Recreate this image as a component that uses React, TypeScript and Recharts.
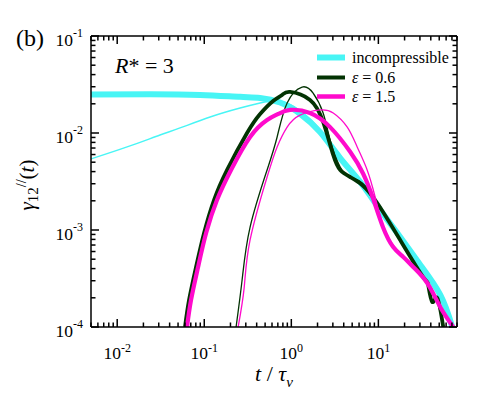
import React from 'react';
import { Legend, Line, LineChart, XAxis, YAxis } from 'recharts';

// time axis t / tau_nu and gamma_12 values
const incompT = [0.005, 0.0238, 0.0895, 0.258, 0.438, 0.743, 1.26, 2.14, 3.64, 6.18, 10.5, 17.8, 30.3, 51.4, 70.6];
const incompThick = [0.025, 0.0251, 0.0247, 0.0236, 0.023, 0.0206, 0.0158, 0.0102, 0.00552, 0.00313, 0.00161, 0.000847, 0.000436, 0.000214, 0.0001];

const incompThinT = [0.005, 0.013, 0.031, 0.0527, 0.1167, 0.258, 0.438, 0.743, 1.26, 2.14, 3.64, 6.18, 10.5, 17.8, 30.3, 51.4, 70.6];
const incompThin = [0.0054, 0.00718, 0.00953, 0.01127, 0.01463, 0.0181, 0.0204, 0.0214, 0.017, 0.0108, 0.0059, 0.0032, 0.0017, 0.00088, 0.00045, 0.00022, 0.0001];

const eps06T = [0.0601, 0.0669, 0.0805, 0.0995, 0.1297, 0.183, 0.31, 0.438, 0.618, 0.783, 0.968, 1.64, 2.32, 3.03, 3.64, 4.74, 6.52, 9.69, 17.8, 32.7, 37.4, 41.6, 47.5, 55.6];
const eps06Thick = [0.0001, 0.00019, 0.000416, 0.000931, 0.00204, 0.00416, 0.01, 0.0157, 0.0214, 0.0247, 0.0265, 0.0219, 0.013, 0.00593, 0.00416, 0.00352, 0.00291, 0.0019, 0.000789, 0.000327, 0.000271, 0.000181, 0.000199, 0.0001];

const eps06ThinT = [0.232, 0.272, 0.336, 0.527, 0.687, 0.895, 1.33, 1.78, 2.32, 2.79, 3.64, 4.74, 6.52, 9.69, 17.8, 32.7, 37.4, 41.6, 47.5, 55.6];
const eps06Thin = [0.0001, 0.000305, 0.00107, 0.00416, 0.0091, 0.0204, 0.0298, 0.0258, 0.0161, 0.00847, 0.00446, 0.00352, 0.00305, 0.0019, 0.000789, 0.000327, 0.000271, 0.000181, 0.000199, 0.0001];

const eps15T = [0.0634, 0.0705, 0.0849, 0.105, 0.14, 0.203, 0.336, 0.527, 0.705, 0.968, 1.64, 2.79, 4.74, 6.69, 8.71, 11.3, 14.8, 19.3, 25.1, 36.4, 51.3, 72.4];
const eps15Thick = [0.0001, 0.00019, 0.000416, 0.000931, 0.00204, 0.00416, 0.0091, 0.0136, 0.0157, 0.0173, 0.0161, 0.0115, 0.0064, 0.0038, 0.0021, 0.00107, 0.000668, 0.000527, 0.000416, 0.000284, 0.000161, 0.0001];

const eps15ThinT = [0.245, 0.287, 0.336, 0.527, 0.687, 0.895, 1.26, 2.14, 3.03, 4.39, 5.71, 7.43, 9.18, 11.3, 14.8, 19.3, 25.1, 36.4, 51.3, 72.4];
const eps15Thin = [0.0001, 0.000252, 0.000789, 0.00352, 0.00718, 0.0115, 0.0153, 0.0173, 0.0161, 0.0115, 0.00718, 0.00416, 0.00219, 0.00112, 0.0007, 0.00054, 0.00043, 0.00029, 0.000165, 0.0001];

const xTicks = [
  0.005, 0.006, 0.007, 0.008, 0.009, 0.01, 0.02, 0.03, 0.04, 0.05, 0.06, 0.07, 0.08, 0.09,
  0.1, 0.2, 0.3, 0.4, 0.5, 0.6, 0.7, 0.8, 0.9, 1, 2, 3, 4, 5, 6, 7, 8, 9, 10, 20, 30, 40, 50, 60, 70, 80,
];
const yTicks = [
  0.0001, 0.0002, 0.0003, 0.0004, 0.0005, 0.0006, 0.0007, 0.0008, 0.0009,
  0.001, 0.002, 0.003, 0.004, 0.005, 0.006, 0.007, 0.008, 0.009,
  0.01, 0.02, 0.03, 0.04, 0.05, 0.06, 0.07, 0.08, 0.09, 0.1,
];

const zip = (t: number[], v: number[]) => t.map((x, i) => ({ x, y: v[i] }));

const CYAN = '#48F5F5';
const GREEN = '#033303';
const PINK = '#FF0ACC';
const SERIF = 'Liberation Serif, Times New Roman, Times, serif';
const font = { fontFamily: SERIF };

const L = 91, R = 457, T = 36, B = 327;

const isMajor = (v: number) => Math.abs(Math.log10(v) - Math.round(Math.log10(v))) < 1e-6;

function TickMark(props: any) {
  const { x, y, payload, side } = props;
  const v = payload.value;
  const major = isMajor(v);
  const len = major ? 8 : 4.5;
  const e = Math.round(Math.log10(v));
  if (side === 'bottom') {
    return (
      <g>
        <line x1={x} x2={x} y1={B} y2={B - len} stroke="#000" strokeWidth={1.5} />
        {major && (
          <text x={x} y={B + 32} textAnchor="middle" style={font} fontSize={17.5} fill="#000">
            10<tspan dy={-7} fontSize={12}>{e}</tspan>
          </text>
        )}
      </g>
    );
  }
  if (side === 'top') {
    return <line x1={x} x2={x} y1={T} y2={T + len} stroke="#000" strokeWidth={1.5} />;
  }
  if (side === 'left') {
    return (
      <g>
        <line x1={L} x2={L + len} y1={y} y2={y} stroke="#000" strokeWidth={1.5} />
        {major && (
          <text x={83} y={y + 9.5} textAnchor="end" style={font} fontSize={17.5} fill="#000">
            10<tspan dy={-9} fontSize={12}>{e}</tspan>
          </text>
        )}
      </g>
    );
  }
  return <line x1={R} x2={R - len} y1={y} y2={y} stroke="#000" strokeWidth={1.5} />;
}

const legendItems = [
  { label: <span>incompressible</span>, color: CYAN, width: 6 },
  { label: <span><i>ε</i> = 0.6</span>, color: GREEN, width: 4 },
  { label: <span><i>ε</i> = 1.5</span>, color: PINK, width: 4.5 },
];

function LegendBox() {
  return (
    <div style={{ fontFamily: SERIF, fontSize: 16, color: '#000' }}>
      {legendItems.map((it, i) => (
        <div key={i} style={{ display: 'flex', alignItems: 'center', height: 19.5 }}>
          <svg width={34} height={19}>
            <line x1={3} x2={31} y1={9.5} y2={9.5} stroke={it.color} strokeWidth={it.width} />
          </svg>
          <span style={{ marginLeft: 4, lineHeight: '19px' }}>{it.label}</span>
        </div>
      ))}
    </div>
  );
}

const axisLine = { stroke: '#000', strokeWidth: 1.5 };

export default function App() {
  return (
    <div style={{ position: 'absolute', left: 0, top: 0, width: 491, height: 400, background: '#fff' }}>
      <LineChart width={491} height={400} margin={{ top: 6, right: 4, bottom: 0, left: 0 }}>
        <XAxis type="number" dataKey="x" scale="log" domain={[0.005, 80]} allowDataOverflow ticks={xTicks} interval={0}
          height={73} axisLine={axisLine} tickLine={false} tick={(p: any) => <TickMark {...p} side="bottom" />} />
        <XAxis xAxisId="top" orientation="top" type="number" dataKey="x" scale="log" domain={[0.005, 80]} allowDataOverflow
          ticks={xTicks} interval={0} height={30} axisLine={axisLine} tickLine={false} tick={(p: any) => <TickMark {...p} side="top" />} />
        <YAxis type="number" dataKey="y" scale="log" domain={[0.0001, 0.1]} allowDataOverflow ticks={yTicks} interval={0}
          width={91} axisLine={axisLine} tickLine={false} tick={(p: any) => <TickMark {...p} side="left" />} />
        <YAxis yAxisId="right" orientation="right" type="number" dataKey="y" scale="log" domain={[0.0001, 0.1]} allowDataOverflow
          ticks={yTicks} interval={0} width={30} axisLine={axisLine} tickLine={false} tick={(p: any) => <TickMark {...p} side="right" />} />
        <Legend layout="vertical" align="center" verticalAlign="middle" content={<LegendBox />}
          wrapperStyle={{ left: 314, top: 48, width: 160 }} />
        <Line data={zip(incompT, incompThick)} dataKey="y" name="incompressible" type="natural" stroke={CYAN} strokeWidth={6} dot={false} isAnimationActive={false} />
        <Line data={zip(incompThinT, incompThin)} dataKey="y" type="natural" stroke={CYAN} strokeWidth={1.4} dot={false} legendType="none" isAnimationActive={false} />
        <Line data={zip(eps06T, eps06Thick)} dataKey="y" name="ε = 0.6" type="natural" stroke={GREEN} strokeWidth={3.8} dot={false} isAnimationActive={false} />
        <Line data={zip(eps06ThinT, eps06Thin)} dataKey="y" type="natural" stroke={GREEN} strokeWidth={1.3} dot={false} legendType="none" isAnimationActive={false} />
        <Line data={zip(eps15T, eps15Thick)} dataKey="y" name="ε = 1.5" type="natural" stroke={PINK} strokeWidth={4.2} dot={false} isAnimationActive={false} />
        <Line data={zip(eps15ThinT, eps15Thin)} dataKey="y" type="natural" stroke={PINK} strokeWidth={1.3} dot={false} legendType="none" isAnimationActive={false} />
      </LineChart>
      <svg width={491} height={400} style={{ position: 'absolute', left: 0, top: 0, pointerEvents: 'none', fontFamily: SERIF }}>
        <text x={16} y={46} fontSize={24}>(b)</text>
        <text x={115} y={73} fontSize={22}>
          <tspan fontStyle="italic">R</tspan>* = 3
        </text>
        <text x={274} y={381} fontSize={22} textAnchor="middle">
          <tspan fontStyle="italic">t</tspan> / <tspan fontStyle="italic">τ</tspan>
          <tspan dy={6} fontSize={15} fontStyle="italic">ν</tspan>
        </text>
        <text x={34} y={185} fontSize={21} textAnchor="middle" transform="rotate(-90 34 185)">
          <tspan fontStyle="italic">γ</tspan>
          <tspan dy={4} fontSize={15}>12</tspan>
          <tspan dy={-12} fontSize={14}>//</tspan>
          <tspan dy={8}>(</tspan>
          <tspan fontStyle="italic">t</tspan>
          <tspan>)</tspan>
        </text>
      </svg>
    </div>
  );
}
